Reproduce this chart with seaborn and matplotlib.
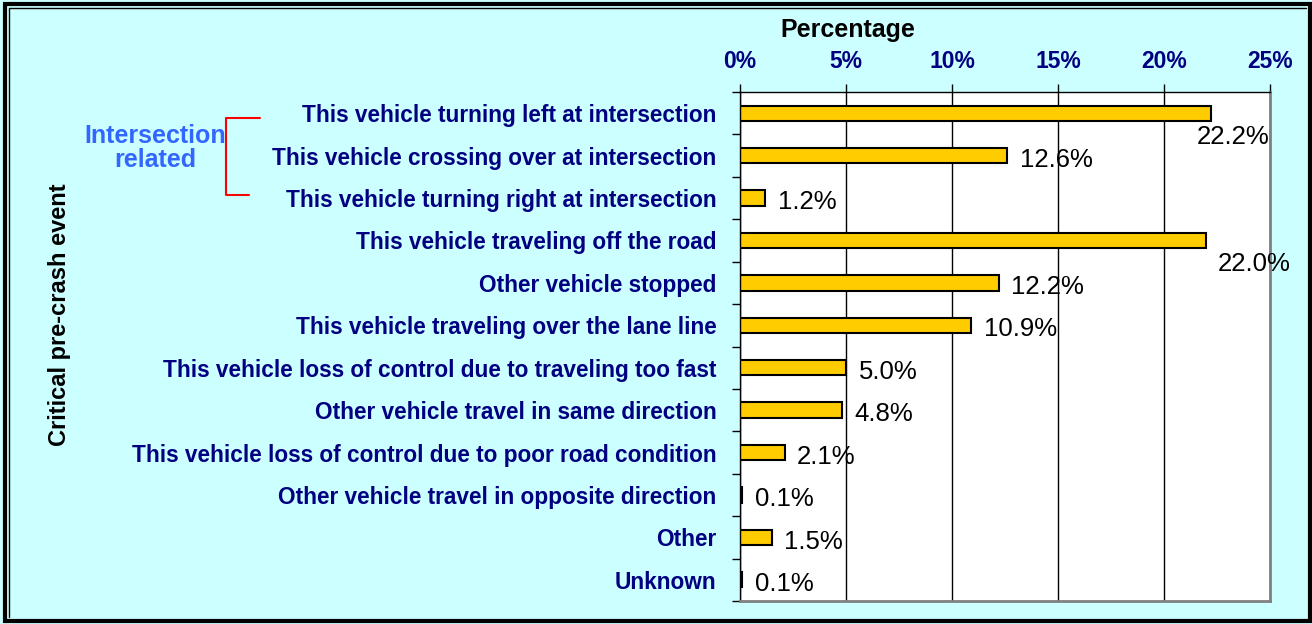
import matplotlib
matplotlib.use("Agg")
import numpy as np
import pandas as pd
import seaborn as sns
import matplotlib.pyplot as plt
from matplotlib.lines import Line2D
from matplotlib.patches import Rectangle

# data (top to bottom)
events = [
    "This vehicle turning left at intersection",
    "This vehicle crossing over at intersection",
    "This vehicle turning right at intersection",
    "This vehicle traveling off the road",
    "Other vehicle stopped",
    "This vehicle traveling over the lane line",
    "This vehicle loss of control due to traveling too fast",
    "Other vehicle travel in same direction",
    "This vehicle loss of control due to poor road condition",
    "Other vehicle travel in opposite direction",
    "Other",
    "Unknown",
]
percent = [22.2, 12.6, 1.2, 22.0, 12.2, 10.9, 5.0, 4.8, 2.1, 0.1, 1.5, 0.1]
x_ticks = [0, 5, 10, 15, 20, 25]
x_tick_labels = ["0%", "5%", "10%", "15%", "20%", "25%"]
group_label = "Intersection\nrelated"

df = pd.DataFrame({"event": events, "percent": percent})

sns.set_theme(style="white")
plt.rcParams["font.family"] = ["Liberation Sans", "DejaVu Sans"]

W, H = 1312, 624
bg = "#CCFFFF"
navy = "#000080"

fig = plt.figure(figsize=(W / 100, H / 100), dpi=100, facecolor=bg)
ax = fig.add_axes([740 / W, 1 - 601 / H, 530 / W, 509 / H])
ax.set_facecolor("white")

sns.barplot(data=df, x="percent", y="event", orient="h", color="#FFCC00",
            saturation=1, edgecolor="black", linewidth=1.5, width=0.36, ax=ax)

ax.set_xlim(0, 25)
ax.set_ylim(len(events) - 0.5, -0.5)
ax.set_xlabel("")
ax.set_ylabel("")

# x axis on top
ax.xaxis.tick_top()
ax.set_xticks(x_ticks)
ax.set_xticklabels(x_tick_labels, color=navy, fontsize=16.5, fontweight="bold")
ax.tick_params(axis="x", which="major", top=True, bottom=False, length=6,
               width=1, color="black", direction="out", pad=8)
ax.grid(axis="x", color="black", linewidth=1)
ax.grid(axis="y", visible=False)
ax.set_axisbelow(True)

# y labels, ticks between categories
for lab in ax.get_yticklabels():
    lab.set_color(navy)
    lab.set_fontsize(16.3)
    lab.set_fontweight("bold")
ax.tick_params(axis="y", which="major", left=False, length=0, pad=17)
ax.set_yticks(np.arange(-0.5, len(events), 1), minor=True)
ax.tick_params(axis="y", which="minor", left=True, length=6, width=1,
               color="black", direction="out")

for s in ["top", "left"]:
    ax.spines[s].set_color("black")
    ax.spines[s].set_linewidth(1)
for s in ["right", "bottom"]:
    ax.spines[s].set_color("#808080")
    ax.spines[s].set_linewidth(2)

# value labels
for i, v in enumerate(percent):
    if v > 20:
        dx = -10 if v > 22.1 else 8
        dy = -17
    else:
        dx, dy = 9, -3
    ax.annotate(f"{v:.1f}%", xy=(v, i), xytext=(dx, dy), textcoords="offset points",
                ha="left", va="center", fontsize=18.5, color="black",
                annotation_clip=False)

# titles
fig.text(848 / W, 1 - 30 / H, "Percentage", ha="center", va="center",
         fontsize=18, fontweight="bold", color="black")
fig.text(60 / W, 1 - 315 / H, "Critical pre-crash event", ha="center", va="center",
         rotation=90, fontsize=17, fontweight="bold", color="black")

# intersection bracket
fig.text(155 / W, 1 - 148 / H, group_label, ha="center", va="center",
         fontsize=18, fontweight="bold", color="#3366FF", linespacing=1.0)
bx = [260 / W, 226 / W, 226 / W, 249 / W]
by = [1 - 118 / H, 1 - 118 / H, 1 - 195 / H, 1 - 195 / H]
fig.add_artist(Line2D(bx, by, color="red", linewidth=1.5, transform=fig.transFigure))

# double frame
fig.add_artist(Rectangle((5 / W, 1 - 621 / H), 1305 / W, 617 / H, fill=False,
                         edgecolor="black", linewidth=3, transform=fig.transFigure))
fig.add_artist(Line2D([9 / W, 9 / W, 1306 / W], [1 - 617 / H, 1 - 8 / H, 1 - 8 / H],
                      color="black", linewidth=1, transform=fig.transFigure))

fig.savefig("out.png", dpi=100, facecolor=bg)
